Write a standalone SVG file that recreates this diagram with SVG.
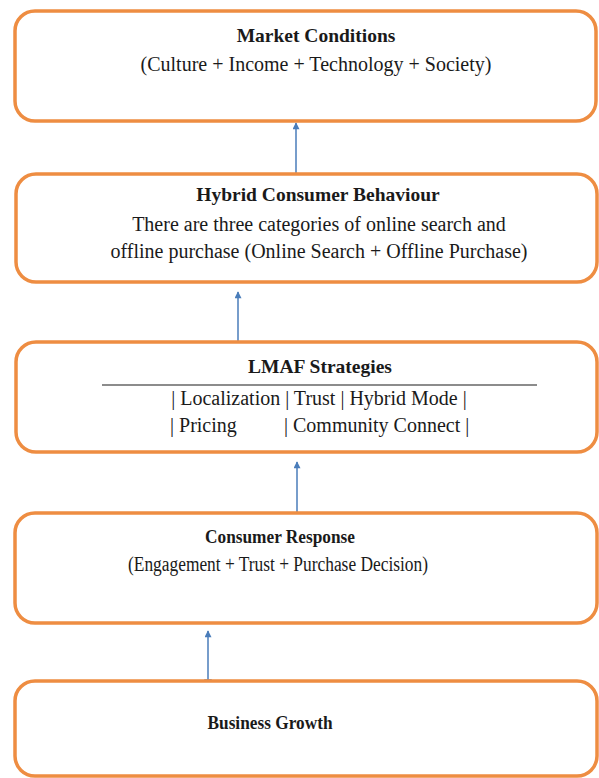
<svg xmlns="http://www.w3.org/2000/svg" width="599" height="778" viewBox="0 0 599 778">
<defs>
<style>
.box{fill:#fff;stroke:#EE8D42;stroke-width:3.5}
.t{font-family:"Liberation Serif","Times New Roman",serif;font-size:20px;fill:#1a1a1a;text-anchor:middle}
.b{font-weight:bold;font-size:19.5px}
.con{stroke:#4A7DBA;stroke-width:1.5;fill:none;marker-end:url(#ah);marker-start:url(#tick)}
</style>
<marker id="ah" viewBox="0 0 10 10" refX="9" refY="5" markerWidth="9" markerHeight="7" markerUnits="userSpaceOnUse" orient="auto">
<path d="M0,0 L10,5 L0,10 z" fill="#4A7DBA"/>
</marker>
<marker id="tick" viewBox="0 0 4 10" refX="2" refY="5" markerWidth="3" markerHeight="8" markerUnits="userSpaceOnUse" orient="auto">
<rect x="1" y="0" width="2" height="10" fill="#4A7DBA"/>
</marker>
</defs>
<rect width="599" height="778" fill="#fff"/>
<g id="connectors">
<line class="con" x1="296" y1="174" x2="296" y2="123"/>
<line class="con" x1="238" y1="342" x2="238" y2="292"/>
<line class="con" x1="297" y1="513" x2="297" y2="462"/>
<line class="con" x1="208" y1="680" x2="208" y2="631"/>
</g>
<g id="market-conditions">
<rect class="box" x="15" y="11" width="581" height="110" rx="20"/>
<text class="t b" x="316" y="42">Market Conditions</text>
<text class="t" x="316" y="71">(Culture + Income + Technology  + Society)</text>
</g>
<g id="hybrid-consumer-behaviour">
<rect class="box" x="16" y="174" width="581" height="108" rx="20"/>
<text class="t b" x="318" y="201">Hybrid Consumer Behaviour</text>
<text class="t" x="319" y="231">There are three categories of online search and</text>
<text class="t" x="319" y="258">offline purchase (Online Search + Offline Purchase)</text>
</g>
<g id="lmaf-strategies">
<rect class="box" x="16" y="342" width="581" height="110" rx="20"/>
<text class="t b" x="320" y="373">LMAF Strategies</text>
<line x1="102" y1="385" x2="537" y2="385" stroke="#1a1a1a" stroke-width="1.2"/>
<text class="t" x="319" y="405">| Localization | Trust | Hybrid Mode |</text>
<text class="t" style="text-anchor:start" y="432"><tspan x="170">| Pricing</tspan><tspan x="284">| Community Connect |</tspan></text>
</g>
<g id="consumer-response">
<rect class="box" x="15" y="513" width="582" height="110" rx="20"/>
<text class="t b" x="280" y="543" textLength="150" lengthAdjust="spacingAndGlyphs">Consumer Response</text>
<text class="t" x="278" y="571" textLength="300" lengthAdjust="spacingAndGlyphs">(Engagement + Trust + Purchase Decision)</text>
</g>
<g id="business-growth">
<rect class="box" x="15" y="681" width="582" height="95" rx="20"/>
<text class="t b" x="270" y="729" textLength="125" lengthAdjust="spacingAndGlyphs">Business Growth</text>
</g>
</svg>
